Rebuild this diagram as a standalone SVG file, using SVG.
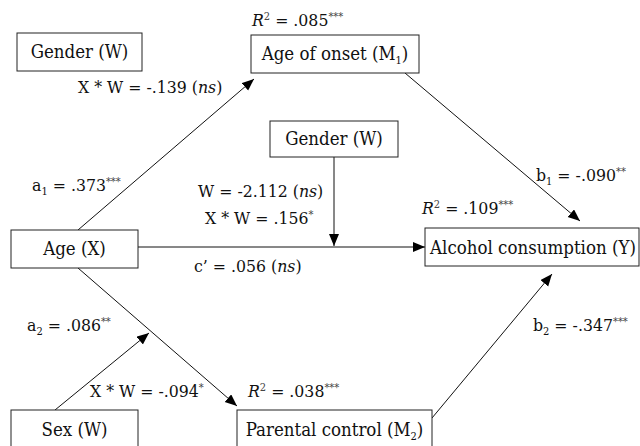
<svg xmlns="http://www.w3.org/2000/svg" width="640" height="446" viewBox="0 0 640 446">
<defs>
<style>
.box{fill:#fff;stroke:#222;stroke-width:1}
.t{font-family:"DejaVu Serif Condensed","DejaVu Serif","Liberation Serif",serif;font-stretch:condensed;font-size:18.5px;fill:#111}
.l{font-family:"DejaVu Serif Condensed","DejaVu Serif","Liberation Serif",serif;font-stretch:condensed;font-size:17.5px;fill:#111}
.sup{font-size:11px;fill:#444}
.sub{font-size:11px}
.conn line{stroke:#111;stroke-width:1;marker-end:url(#arr)}
</style>
<marker id="arr" markerUnits="userSpaceOnUse" markerWidth="13" markerHeight="11" refX="12" refY="5" orient="auto">
<path d="M0,0 L12,5 L0,10 z" fill="#000"/>
</marker>
</defs>
<rect width="640" height="446" fill="#fff"/>

<g id="connectors" class="conn">
<line x1="78" y1="230" x2="254" y2="79"/>
<line x1="405" y1="73" x2="580" y2="221"/>
<line x1="138" y1="247" x2="425" y2="247"/>
<line x1="334" y1="157" x2="334" y2="246"/>
<line x1="78" y1="268" x2="237" y2="406"/>
<line x1="55" y1="410" x2="149" y2="333"/>
<line x1="432" y1="418" x2="552" y2="274"/>
</g>

<g id="gender1">
<rect class="box" x="17" y="33" width="125" height="38"/>
<text class="t" x="79.5" y="58" text-anchor="middle">Gender (W)</text>
</g>
<g id="onset">
<rect class="box" x="251" y="35" width="168" height="38"/>
<text class="t" x="335" y="60" text-anchor="middle">Age of onset (M<tspan class="sub" dy="4">1</tspan><tspan dy="-4">)</tspan></text>
</g>
<g id="gender2">
<rect class="box" x="270" y="121" width="128" height="36"/>
<text class="t" x="334" y="145" text-anchor="middle">Gender (W)</text>
</g>
<g id="age">
<rect class="box" x="11" y="230" width="127" height="38"/>
<text class="t" x="74.5" y="255" text-anchor="middle">Age (X)</text>
</g>
<g id="alcohol">
<rect class="box" x="425" y="228" width="214" height="38"/>
<text class="t" x="533" y="254" text-anchor="middle">Alcohol consumption (Y)</text>
</g>
<g id="sex">
<rect class="box" x="11" y="410" width="127" height="40"/>
<text class="t" x="74.5" y="436" text-anchor="middle">Sex (W)</text>
</g>
<g id="parental">
<rect class="box" x="237" y="410" width="195" height="40"/>
<text class="t" x="334.5" y="436" text-anchor="middle">Parental control (M<tspan class="sub" dy="4">2</tspan><tspan dy="-4">)</tspan></text>
</g>

<g id="labels" class="l">
<text x="252" y="26"><tspan font-style="italic">R</tspan><tspan class="sup" dy="-6">2</tspan><tspan dy="6"> = .085</tspan><tspan class="sup" dy="-6">***</tspan></text>
<text x="78" y="93">X * W = -.139 (<tspan font-style="italic">ns</tspan>)</text>
<text x="32" y="191">a<tspan class="sub" dy="4">1</tspan><tspan dy="-4"> = .373</tspan><tspan class="sup" dy="-6">***</tspan></text>
<text x="198" y="197">W = -2.112 (<tspan font-style="italic">ns</tspan>)</text>
<text x="205" y="224">X * W = .156<tspan class="sup" dy="-6">*</tspan></text>
<text x="194" y="272">c’ = .056 (<tspan font-style="italic">ns</tspan>)</text>
<text x="422" y="214"><tspan font-style="italic">R</tspan><tspan class="sup" dy="-6">2</tspan><tspan dy="6"> = .109</tspan><tspan class="sup" dy="-6">***</tspan></text>
<text x="536" y="181">b<tspan class="sub" dy="4">1</tspan><tspan dy="-4"> = -.090</tspan><tspan class="sup" dy="-6">**</tspan></text>
<text x="27" y="331">a<tspan class="sub" dy="4">2</tspan><tspan dy="-4"> = .086</tspan><tspan class="sup" dy="-6">**</tspan></text>
<text x="90" y="397">X * W = -.094<tspan class="sup" dy="-6">*</tspan></text>
<text x="248" y="397"><tspan font-style="italic">R</tspan><tspan class="sup" dy="-6">2</tspan><tspan dy="6"> = .038</tspan><tspan class="sup" dy="-6">***</tspan></text>
<text x="533" y="331">b<tspan class="sub" dy="4">2</tspan><tspan dy="-4"> = -.347</tspan><tspan class="sup" dy="-6">***</tspan></text>
</g>
</svg>
